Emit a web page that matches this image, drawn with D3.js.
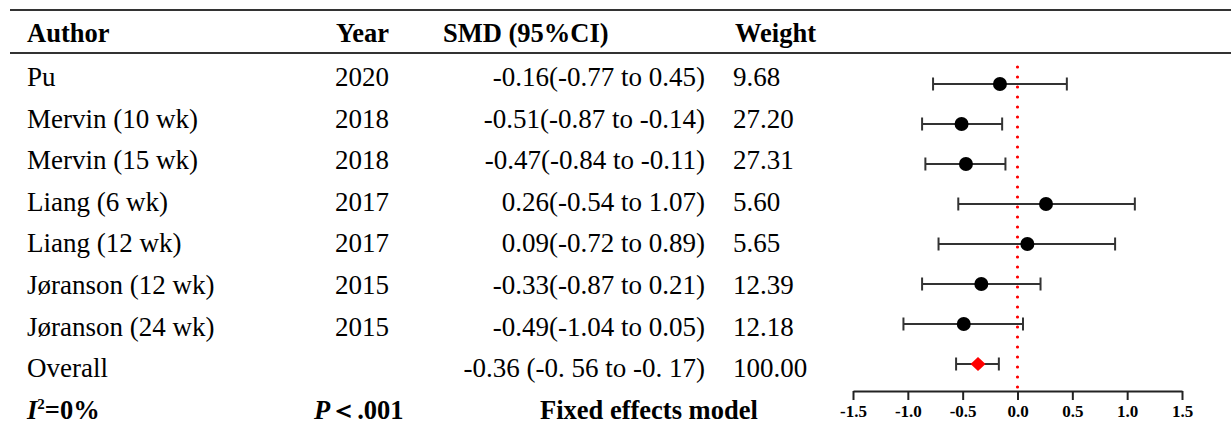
<!DOCTYPE html>
<html>
<head>
<meta charset="utf-8">
<script src="https://cdn.jsdelivr.net/npm/d3@7"></script>
<style>
  body { margin: 0; background: #fff; }
  text { font-family: "Liberation Serif", "Times New Roman", serif; fill: #000; }
</style>
</head>
<body>
<div class="forest"></div>
<script>
var authors = ["Pu", "Mervin (10 wk)", "Mervin (15 wk)", "Liang (6 wk)", "Liang (12 wk)", "Jøranson (12 wk)", "Jøranson (24 wk)"];
var years = ["2020", "2018", "2018", "2017", "2017", "2015", "2015"];
var smd = [-0.16, -0.51, -0.47, 0.26, 0.09, -0.33, -0.49];
var lower = [-0.77, -0.87, -0.84, -0.54, -0.72, -0.87, -1.04];
var upper = [0.45, -0.14, -0.11, 1.07, 0.89, 0.21, 0.05];
var weights = [9.68, 27.20, 27.31, 5.60, 5.65, 12.39, 12.18];

var overall = { smd: -0.36, lower: -0.56, upper: -0.17, weight: 100.00, label: "-0.36 (-0. 56 to -0. 17)" };
var xTicks = [-1.5, -1.0, -0.5, 0.0, 0.5, 1.0, 1.5];

// plain hyphen for negatives, like the original table
var locale = d3.formatLocale({ decimal: ".", thousands: ",", grouping: [3], currency: ["", ""], minus: "-" });
var fmt = locale.format(".2f");
var ciText = (i) => `${fmt(smd[i])}(${fmt(lower[i])} to ${fmt(upper[i])})`;

var svg = d3
    .select(".forest")
    .append("svg")
    .attr("width", 1231)
    .attr("height", 430);

var x = d3.scaleLinear().domain([-1.5, 1.5]).range([853, 1182]);
// table rows and plot rows are spaced a little differently in the original
var textY = (i) => 86 + i * 41.6;
var markY = (i) => 84 + i * 40;

// header rules
[10, 53].forEach((y) => {
    svg.append("line")
        .attr("x1", 10).attr("x2", 1231)
        .attr("y1", y).attr("y2", y)
        .style("stroke", "#333")
        .style("stroke-width", 2);
});

var header = svg.append("g").style("font-weight", "bold").style("font-size", "26.5px");
header.append("text").attr("x", 27).attr("y", 42).text("Author");
header.append("text").attr("x", 336).attr("y", 42).text("Year");
header.append("text").attr("x", 443).attr("y", 42).text("SMD (95%CI)");
header.append("text").attr("x", 735).attr("y", 42).text("Weight");

// table body
var rows = svg.append("g").style("font-size", "27px");
authors.forEach((a, i) => {
    var y = textY(i);
    rows.append("text").attr("x", 27).attr("y", y).text(a);
    rows.append("text").attr("x", 335).attr("y", y).text(years[i]);
    rows.append("text").attr("x", 705).attr("y", y).attr("text-anchor", "end").text(ciText(i));
    rows.append("text").attr("x", 733).attr("y", y).text(fmt(weights[i]));
});
var oy = textY(authors.length);
rows.append("text").attr("x", 27).attr("y", oy).text("Overall");
rows.append("text").attr("x", 705).attr("y", oy).attr("text-anchor", "end").text(overall.label);
rows.append("text").attr("x", 733).attr("y", oy).text(fmt(overall.weight));

// summary line
var by = textY(authors.length + 1);
var foot = svg.append("g").style("font-size", "26.5px").style("font-weight", "bold");
var i2 = foot.append("text").attr("x", 27).attr("y", by);
i2.append("tspan").style("font-style", "italic").text("I");
i2.append("tspan").attr("dy", -10).style("font-size", "15px").text("2");
i2.append("tspan").attr("dy", 10).text("=0%");
var pt = foot.append("text").attr("x", 314).attr("y", by);
pt.append("tspan").style("font-style", "italic").text("P");
pt.append("tspan").text("＜.001");
foot.append("text").attr("x", 540).attr("y", by).text("Fixed effects model");

// null line
svg.append("line")
    .attr("x1", x(0)).attr("x2", x(0))
    .attr("y1", 67).attr("y2", 388)
    .style("stroke", "red")
    .style("stroke-width", 3.2)
    .style("stroke-linecap", "round")
    .style("stroke-dasharray", "0,10");

// study intervals
var study = svg.selectAll(".study")
    .data(smd)
    .enter()
    .append("g")
    .attr("class", "study");

study.append("line")
    .attr("x1", (d, i) => x(lower[i]))
    .attr("x2", (d, i) => x(upper[i]))
    .attr("y1", (d, i) => markY(i))
    .attr("y2", (d, i) => markY(i));
[lower, upper].forEach((arr) => {
    study.append("line")
        .attr("x1", (d, i) => x(arr[i]))
        .attr("x2", (d, i) => x(arr[i]))
        .attr("y1", (d, i) => markY(i) - 6.5)
        .attr("y2", (d, i) => markY(i) + 6.5);
});
study.selectAll("line").style("stroke", "#333").style("stroke-width", 2);
study.append("circle")
    .attr("cx", (d) => x(d))
    .attr("cy", (d, i) => markY(i))
    .attr("r", 7)
    .style("fill", "#000");

// pooled estimate
var py = markY(authors.length);
var pooled = svg.append("g");
pooled.append("line")
    .attr("x1", x(overall.lower)).attr("x2", x(overall.upper))
    .attr("y1", py).attr("y2", py);
[overall.lower, overall.upper].forEach((v) => {
    pooled.append("line")
        .attr("x1", x(v)).attr("x2", x(v))
        .attr("y1", py - 6.5).attr("y2", py + 6.5);
});
pooled.selectAll("line").style("stroke", "#333").style("stroke-width", 2);
pooled.append("path")
    .attr("d", `M${x(overall.smd) - 7.5},${py} L${x(overall.smd)},${py - 7} L${x(overall.smd) + 7.5},${py} L${x(overall.smd)},${py + 7} Z`)
    .style("fill", "red");

// axis
var axis = svg.append("g")
    .attr("transform", "translate(0,391)")
    .call(d3.axisBottom(x).tickValues(xTicks).tickFormat(locale.format(".1f")).tickSizeInner(9).tickSizeOuter(0).tickPadding(5));
axis.select(".domain").style("stroke", "#222").style("stroke-width", 2);
axis.selectAll(".tick line").style("stroke", "#222").style("stroke-width", 2);
axis.selectAll(".tick text")
    .style("font-family", "'Liberation Serif', serif")
    .style("font-weight", "bold")
    .style("font-size", "17px")
    .style("fill", "#000");
</script>
</body>
</html>
